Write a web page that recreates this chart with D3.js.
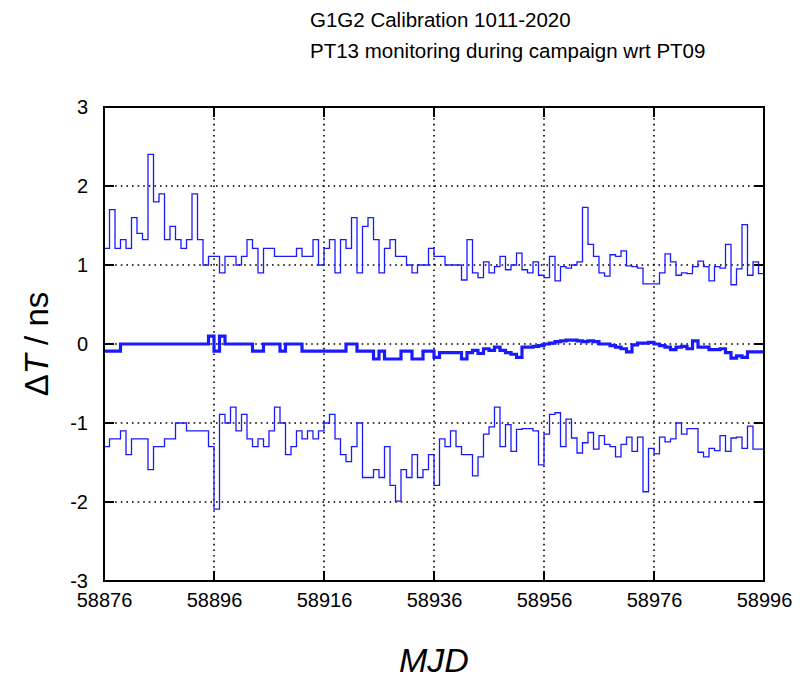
<!DOCTYPE html>
<html>
<head>
<meta charset="utf-8">
<script src="https://cdn.jsdelivr.net/npm/d3@7"></script>
<style>body{margin:0;background:#fff}</style>
</head>
<body>
<svg id="chart" width="805" height="680"></svg>
<script>
const MJD0 = 58876;
const xTicks = [58876, 58896, 58916, 58936, 58956, 58976, 58996];
const yTicks = [-3, -2, -1, 0, 1, 2, 3];

// step change points: day offset from MJD0 and value
const upperDay = [0,1,2,3,4,5,6,7,8,9,10,11,12,13,14,15,16,17,18,19,21,22,24,25,26,27,28,29,31,35,36,38,39,40,41,42,43,44,45,46,47,48,49,50,51,52,53,55,56,57,59,60,62,65,66,67,68,69,70,71,72,73,74,75,76,77,78,79,80,81,82,83,84,85,86,87,88,89,90,91,92,93,94,95,96,97,98,101,102,103,104,105,106,107,108,109,110,111,112,113,114,115,116,117,118,119];
const upperVal = [1.21,1.70,1.21,1.32,1.21,1.60,1.40,1.32,2.40,1.80,1.90,1.32,1.49,1.32,1.21,1.32,1.90,1.32,1.0,1.11,0.90,1.11,1.0,1.11,1.32,1.21,0.90,1.21,1.11,1.21,1.11,1.32,1.0,1.21,1.32,0.90,1.32,1.21,1.60,0.90,1.49,1.60,1.32,0.90,1.21,1.32,1.11,1.0,0.90,1.0,1.21,1.11,1.0,0.81,1.32,0.90,0.84,1.04,0.90,0.98,1.11,0.94,1.0,1.15,0.94,0.90,1.04,0.87,0.84,1.11,0.80,0.98,0.96,1.0,1.04,1.73,1.26,1.11,0.90,0.86,1.13,1.11,1.18,0.99,0.98,0.96,0.76,0.90,1.14,1.04,0.87,0.90,0.89,0.98,1.05,0.98,0.80,0.98,0.96,1.26,0.75,0.95,1.51,0.87,1.04,0.89];

const midDay = [0,3,19,20,21,22,27,29,32,33,36,44,46,49,50,51,54,56,58,60,61,65,66,67,68,69,70,71,72,73,74,75,76,78,79,80,81,82,83,84,86,87,88,89,90,92,93,94,95,96,97,99,100,101,102,103,104,105,106,107,108,110,112,113,114,115,116,117];
const midVal = [-0.09,0,0.1,-0.09,0.1,0,-0.09,0,-0.09,0,-0.09,0,-0.09,-0.19,-0.09,-0.19,-0.09,-0.19,-0.09,-0.17,-0.11,-0.19,-0.11,-0.08,-0.12,-0.06,-0.08,-0.04,-0.08,-0.11,-0.13,-0.17,-0.04,-0.03,-0.02,0,0.01,0.03,0.04,0.05,0.04,0.03,0.04,0.03,0,-0.02,-0.04,-0.06,-0.10,-0.01,0.01,0.02,0,-0.02,-0.04,-0.07,-0.04,-0.03,-0.06,0.04,-0.04,-0.07,-0.06,-0.11,-0.18,-0.15,-0.17,-0.10];

const lowerDay = [0,1,3,4,5,8,9,11,13,15,19,20,21,22,23,24,25,26,27,28,29,30,31,32,33,34,35,36,37,38,39,40,41,42,43,44,45,46,47,49,50,51,52,53,54,55,56,57,58,59,60,61,62,63,64,65,67,68,69,70,71,72,73,74,75,76,78,79,80,81,82,83,84,85,86,87,88,89,90,91,92,93,94,95,96,97,98,99,100,101,102,103,104,105,106,108,109,110,111,112,113,114,115,116,117,118];
const lowerVal = [-1.30,-1.20,-1.10,-1.40,-1.20,-1.59,-1.30,-1.20,-1.0,-1.10,-1.30,-2.09,-0.89,-1.0,-0.80,-1.10,-0.89,-1.20,-1.30,-1.20,-1.30,-1.10,-0.80,-1.0,-1.40,-1.30,-1.10,-1.20,-1.10,-1.20,-1.10,-1.0,-0.89,-1.20,-1.40,-1.49,-1.30,-1.0,-1.69,-1.59,-1.69,-1.30,-1.79,-1.99,-1.59,-1.69,-1.40,-1.69,-1.59,-1.40,-1.79,-1.20,-1.30,-1.10,-1.30,-1.40,-1.67,-1.43,-1.14,-1.05,-0.80,-1.30,-1.02,-1.36,-1.08,-1.07,-1.10,-1.53,-1.14,-0.89,-0.87,-1.30,-0.95,-1.19,-1.38,-1.25,-1.12,-1.33,-1.16,-1.27,-1.30,-1.43,-1.27,-1.18,-1.36,-1.18,-1.87,-1.32,-1.39,-1.18,-1.24,-1.20,-1.0,-1.14,-1.07,-1.37,-1.43,-1.32,-1.35,-1.16,-1.36,-1.19,-1.18,-1.32,-1.04,-1.33];

const svg = d3.select("#chart");
const L = 104, R = 764, T = 107, B = 581;
const x = d3.scaleLinear().domain([58876, 58996]).range([L, R]);
const y = d3.scaleLinear().domain([-3, 3]).range([B, T]);

// grid
const g = svg.append("g");
xTicks.slice(1, -1).forEach(t => g.append("line").attr("x1", x(t)).attr("x2", x(t)).attr("y1", T).attr("y2", B)
  .attr("stroke", "#000").attr("stroke-width", 1.6).attr("stroke-dasharray", "1.6,4"));
yTicks.slice(1, -1).forEach(t => g.append("line").attr("x1", L).attr("x2", R).attr("y1", y(t)).attr("y2", y(t))
  .attr("stroke", "#000").attr("stroke-width", 1.6).attr("stroke-dasharray", "1.6,4"));

// series
const line = d3.line().x(d => x(MJD0 + d[0])).y(d => y(d[1])).curve(d3.curveStepAfter);
function drawSeries(days, vals, w) {
  const pts = days.map((d, i) => [d, vals[i]]);
  pts.push([120, vals[vals.length - 1]]);
  svg.append("path").attr("d", line(pts)).attr("fill", "none").attr("stroke", "#1a1aff").attr("stroke-width", w);
}
drawSeries(upperDay, upperVal, 1.3);
drawSeries(lowerDay, lowerVal, 1.3);
drawSeries(midDay, midVal, 3.2);

// frame and axes
svg.append("rect").attr("x", L).attr("y", T).attr("width", R - L).attr("height", B - T)
  .attr("fill", "none").attr("stroke", "#000").attr("stroke-width", 2);
const font = "Liberation Sans, Arial, sans-serif";
const ax = svg.append("g").attr("transform", `translate(0,${B})`)
  .call(d3.axisBottom(x).tickValues(xTicks).tickSize(0).tickPadding(12).tickFormat(d => String(d)));
ax.select(".domain").remove();
ax.selectAll("text").attr("font-size", 20).attr("font-family", font);
const ay = svg.append("g").attr("transform", `translate(${L},0)`)
  .call(d3.axisLeft(y).tickValues(yTicks).tickSize(0).tickPadding(16).tickFormat(d => String(d)));
ay.select(".domain").remove();
ay.selectAll("text").attr("font-size", 20).attr("font-family", font);
yTicks.forEach(t => {
  svg.append("line").attr("x1", L).attr("x2", L + 10).attr("y1", y(t)).attr("y2", y(t)).attr("stroke", "#000").attr("stroke-width", 2);
  svg.append("line").attr("x1", R - 10).attr("x2", R).attr("y1", y(t)).attr("y2", y(t)).attr("stroke", "#000").attr("stroke-width", 2);
});
xTicks.forEach(t => {
  svg.append("line").attr("x1", x(t)).attr("x2", x(t)).attr("y1", B - 10).attr("y2", B).attr("stroke", "#000").attr("stroke-width", 2);
  svg.append("line").attr("x1", x(t)).attr("x2", x(t)).attr("y1", T).attr("y2", T + 10).attr("stroke", "#000").attr("stroke-width", 2);
});

// titles
svg.append("text").attr("x", 310).attr("y", 27).attr("font-size", 20.5).attr("font-family", font).text("G1G2 Calibration 1011-2020");
svg.append("text").attr("x", 310).attr("y", 58).attr("font-size", 20.5).attr("font-family", font).text("PT13 monitoring during campaign wrt PT09");
svg.append("text").attr("x", 434).attr("y", 672).attr("text-anchor", "middle").attr("font-size", 34)
  .attr("font-style", "italic").attr("font-family", font).text("MJD");
const yl = svg.append("text").attr("transform", `translate(48,${(T + B) / 2}) rotate(-90)`).attr("text-anchor", "middle")
  .attr("font-size", 33).attr("font-family", font);
yl.append("tspan").text("Δ");
yl.append("tspan").attr("font-style", "italic").text("T");
yl.append("tspan").text(" / ns");
</script>
</body>
</html>
